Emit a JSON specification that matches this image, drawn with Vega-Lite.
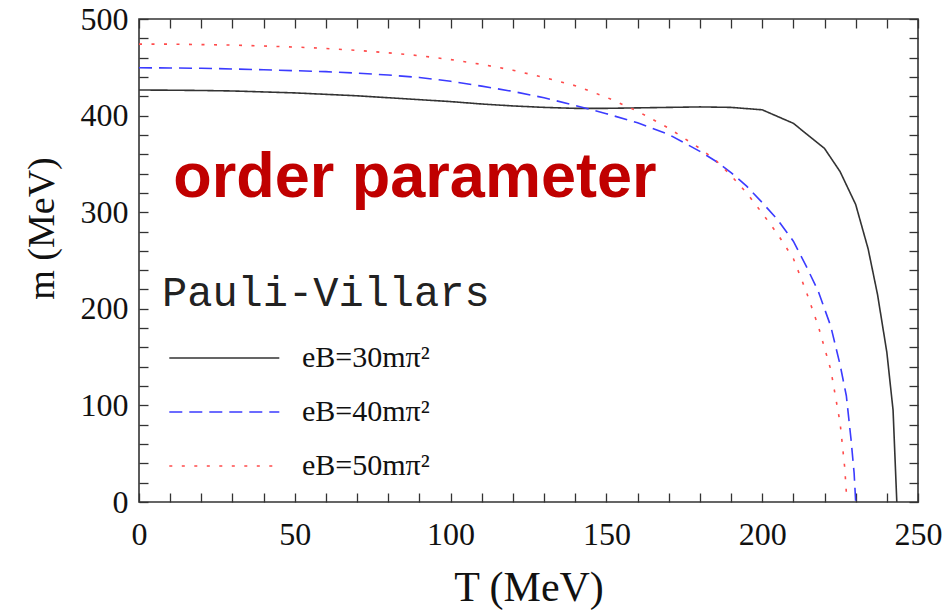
{
  "$schema": "https://vega.github.io/schema/vega-lite/v6.json",
  "width": 779,
  "height": 483,
  "autosize": {"type": "none"},
  "padding": {"left": 139, "top": 19, "right": 31, "bottom": 108},
  "background": "white",
  "config": {
    "view": {"stroke": "#333333", "strokeWidth": 1.6},
    "axis": {"grid": false, "domain": false, "ticks": true, "tickColor": "#333333", "tickWidth": 1.3, "labelFont": "Liberation Serif", "labelFontSize": 32, "labelColor": "#111111", "titleFont": "Liberation Serif", "titleFontWeight": "normal", "titleColor": "#111111", "labelOverlap": false, "labelFlush": false, "labelBound": false}
  },
  "datasets": {
    "curves": [
      {"series": "eB=30mπ²", "T": 0, "m": 426.5},
      {"series": "eB=30mπ²", "T": 10, "m": 426.3},
      {"series": "eB=30mπ²", "T": 20, "m": 426},
      {"series": "eB=30mπ²", "T": 30, "m": 425.5},
      {"series": "eB=30mπ²", "T": 40, "m": 424.5},
      {"series": "eB=30mπ²", "T": 50, "m": 423.5},
      {"series": "eB=30mπ²", "T": 60, "m": 422},
      {"series": "eB=30mπ²", "T": 70, "m": 420.5},
      {"series": "eB=30mπ²", "T": 80, "m": 418.5},
      {"series": "eB=30mπ²", "T": 90, "m": 416.5},
      {"series": "eB=30mπ²", "T": 100, "m": 414.5},
      {"series": "eB=30mπ²", "T": 110, "m": 412},
      {"series": "eB=30mπ²", "T": 120, "m": 410},
      {"series": "eB=30mπ²", "T": 130, "m": 408.5},
      {"series": "eB=30mπ²", "T": 140, "m": 407.5},
      {"series": "eB=30mπ²", "T": 150, "m": 407.5},
      {"series": "eB=30mπ²", "T": 160, "m": 408},
      {"series": "eB=30mπ²", "T": 170, "m": 408.5},
      {"series": "eB=30mπ²", "T": 180, "m": 409},
      {"series": "eB=30mπ²", "T": 190, "m": 408.5},
      {"series": "eB=30mπ²", "T": 200, "m": 406},
      {"series": "eB=30mπ²", "T": 210, "m": 392},
      {"series": "eB=30mπ²", "T": 220, "m": 366},
      {"series": "eB=30mπ²", "T": 225, "m": 342},
      {"series": "eB=30mπ²", "T": 230, "m": 308},
      {"series": "eB=30mπ²", "T": 234, "m": 262},
      {"series": "eB=30mπ²", "T": 237, "m": 215},
      {"series": "eB=30mπ²", "T": 240, "m": 155},
      {"series": "eB=30mπ²", "T": 242, "m": 95},
      {"series": "eB=30mπ²", "T": 243.2, "m": 0},
      {"series": "eB=40mπ²", "T": 0, "m": 449.5},
      {"series": "eB=40mπ²", "T": 10, "m": 449.3},
      {"series": "eB=40mπ²", "T": 20, "m": 449},
      {"series": "eB=40mπ²", "T": 30, "m": 448.3},
      {"series": "eB=40mπ²", "T": 40, "m": 447.5},
      {"series": "eB=40mπ²", "T": 50, "m": 446.5},
      {"series": "eB=40mπ²", "T": 60, "m": 445.5},
      {"series": "eB=40mπ²", "T": 70, "m": 444},
      {"series": "eB=40mπ²", "T": 80, "m": 442},
      {"series": "eB=40mπ²", "T": 90, "m": 439.5},
      {"series": "eB=40mπ²", "T": 100, "m": 435.5},
      {"series": "eB=40mπ²", "T": 110, "m": 430.5},
      {"series": "eB=40mπ²", "T": 120, "m": 425},
      {"series": "eB=40mπ²", "T": 130, "m": 418.5},
      {"series": "eB=40mπ²", "T": 140, "m": 410.5},
      {"series": "eB=40mπ²", "T": 150, "m": 402},
      {"series": "eB=40mπ²", "T": 160, "m": 392.5},
      {"series": "eB=40mπ²", "T": 170, "m": 380.5},
      {"series": "eB=40mπ²", "T": 180, "m": 363},
      {"series": "eB=40mπ²", "T": 185, "m": 353},
      {"series": "eB=40mπ²", "T": 190, "m": 341},
      {"series": "eB=40mπ²", "T": 195, "m": 327},
      {"series": "eB=40mπ²", "T": 200, "m": 310},
      {"series": "eB=40mπ²", "T": 205, "m": 292},
      {"series": "eB=40mπ²", "T": 210, "m": 270},
      {"series": "eB=40mπ²", "T": 214, "m": 245},
      {"series": "eB=40mπ²", "T": 218, "m": 218},
      {"series": "eB=40mπ²", "T": 222, "m": 182},
      {"series": "eB=40mπ²", "T": 225, "m": 142},
      {"series": "eB=40mπ²", "T": 227, "m": 110},
      {"series": "eB=40mπ²", "T": 228.5, "m": 65},
      {"series": "eB=40mπ²", "T": 229.5, "m": 30},
      {"series": "eB=40mπ²", "T": 230, "m": 0},
      {"series": "eB=50mπ²", "T": 0, "m": 474},
      {"series": "eB=50mπ²", "T": 10, "m": 474},
      {"series": "eB=50mπ²", "T": 20, "m": 473.5},
      {"series": "eB=50mπ²", "T": 30, "m": 473},
      {"series": "eB=50mπ²", "T": 40, "m": 472},
      {"series": "eB=50mπ²", "T": 50, "m": 471},
      {"series": "eB=50mπ²", "T": 60, "m": 469.5},
      {"series": "eB=50mπ²", "T": 70, "m": 467.5},
      {"series": "eB=50mπ²", "T": 80, "m": 465},
      {"series": "eB=50mπ²", "T": 90, "m": 462},
      {"series": "eB=50mπ²", "T": 100, "m": 458},
      {"series": "eB=50mπ²", "T": 110, "m": 453},
      {"series": "eB=50mπ²", "T": 120, "m": 447},
      {"series": "eB=50mπ²", "T": 130, "m": 439.5},
      {"series": "eB=50mπ²", "T": 140, "m": 431},
      {"series": "eB=50mπ²", "T": 150, "m": 419},
      {"series": "eB=50mπ²", "T": 160, "m": 404.5},
      {"series": "eB=50mπ²", "T": 170, "m": 387},
      {"series": "eB=50mπ²", "T": 180, "m": 366},
      {"series": "eB=50mπ²", "T": 185, "m": 354},
      {"series": "eB=50mπ²", "T": 190, "m": 338},
      {"series": "eB=50mπ²", "T": 195, "m": 320},
      {"series": "eB=50mπ²", "T": 200, "m": 299},
      {"series": "eB=50mπ²", "T": 205, "m": 277},
      {"series": "eB=50mπ²", "T": 210, "m": 252},
      {"series": "eB=50mπ²", "T": 214, "m": 219},
      {"series": "eB=50mπ²", "T": 218, "m": 182},
      {"series": "eB=50mπ²", "T": 222, "m": 137},
      {"series": "eB=50mπ²", "T": 225, "m": 82},
      {"series": "eB=50mπ²", "T": 226.5, "m": 35},
      {"series": "eB=50mπ²", "T": 227, "m": 10}
    ]
  },
  "layer": [
    {
      "data": {"name": "curves"},
      "mark": {"type": "line", "strokeWidth": 1.6, "clip": true},
      "encoding": {
        "x": {
          "field": "T", "type": "quantitative",
          "scale": {"domain": [0, 250], "nice": false, "zero": false},
          "axis": {
            "orient": "bottom", "title": "T (MeV)", "titleFontSize": 42, "titleY": 98, "titleBaseline": "alphabetic",
            "values": [0,10,20,30,40,50,60,70,80,90,100,110,120,130,140,150,160,170,180,190,200,210,220,230,240,250],
            "labelExpr": "datum.value % 50 === 0 ? datum.label : ''",
            "tickSize": -9, "labelPadding": 26,
            "encode": {"ticks": {"update": {"y2": {"signal": "datum.value % 50 === 0 ? -9 : -5.5"}}}}
          }
        },
        "y": {
          "field": "m", "type": "quantitative",
          "scale": {"domain": [0, 500], "nice": false},
          "axis": {
            "orient": "left", "title": "m (MeV)", "titleFontSize": 38, "titleX": -97, "titleY": 209, "titleAlign": "center", "titleBaseline": "middle", "titleAngle": -90,
            "values": [0,20,40,60,80,100,120,140,160,180,200,220,240,260,280,300,320,340,360,380,400,420,440,460,480,500],
            "labelExpr": "datum.value % 100 === 0 ? datum.label : ''",
            "tickSize": -9, "labelPadding": 20,
            "encode": {"ticks": {"update": {"x2": {"signal": "datum.value % 100 === 0 ? 9 : 5.5"}}}}
          }
        },
        "color": {
          "field": "series", "type": "nominal",
          "scale": {"domain": ["eB=30mπ²", "eB=40mπ²", "eB=50mπ²"], "range": ["#333333", "#3b3bff", "#ff4b4b"]},
          "legend": {
            "title": "Pauli-Villars", "orient": "none", "legendX": 23, "legendY": 254, "padding": 0,
            "titleFont": "Liberation Mono", "titleFontSize": 42, "titleFontWeight": "normal", "titleColor": "#222222", "titlePadding": 28, "titleLimit": 0,
            "labelFont": "Liberation Serif", "labelFontSize": 30, "labelColor": "#111111", "labelLimit": 0, "labelOffset": 110,
            "symbolType": "M-0.7,0H9.3", "symbolSize": 484, "symbolStrokeWidth": 1.6, "rowPadding": 24
          }
        },
        "strokeDash": {
          "field": "series", "type": "nominal",
          "scale": {"domain": ["eB=30mπ²", "eB=40mπ²", "eB=50mπ²"], "range": [[1, 0], [13, 7], [3, 9.5]]},
          "legend": {
            "title": "Pauli-Villars", "orient": "none", "legendX": 23, "legendY": 254, "padding": 0,
            "titleFont": "Liberation Mono", "titleFontSize": 42, "titleFontWeight": "normal", "titleColor": "#222222", "titlePadding": 28, "titleLimit": 0,
            "labelFont": "Liberation Serif", "labelFontSize": 30, "labelColor": "#111111", "labelLimit": 0, "labelOffset": 110,
            "symbolType": "M-0.7,0H9.3", "symbolSize": 484, "symbolStrokeWidth": 1.6, "rowPadding": 24
          }
        }
      }
    },
    {
      "data": {"values": [{"label": "order parameter"}]},
      "mark": {"type": "text", "font": "Liberation Sans", "fontWeight": "bold", "fontSize": 63, "color": "#c00000", "align": "left", "baseline": "alphabetic"},
      "encoding": {
        "x": {
          "datum": 11, "type": "quantitative",
          "axis": {
            "orient": "top", "title": null, "labels": false, "tickSize": -9,
            "values": [0,10,20,30,40,50,60,70,80,90,100,110,120,130,140,150,160,170,180,190,200,210,220,230,240,250],
            "encode": {"ticks": {"update": {"y2": {"signal": "datum.value % 50 === 0 ? 9 : 5.5"}}}}
          }
        },
        "y": {
          "datum": 316, "type": "quantitative",
          "axis": {
            "orient": "right", "title": null, "labels": false, "tickSize": -9,
            "values": [0,20,40,60,80,100,120,140,160,180,200,220,240,260,280,300,320,340,360,380,400,420,440,460,480,500],
            "encode": {"ticks": {"update": {"x2": {"signal": "datum.value % 100 === 0 ? -9 : -5.5"}}}}
          }
        },
        "text": {"field": "label"}
      }
    }
  ],
  "resolve": {"axis": {"x": "independent", "y": "independent"}}
}
